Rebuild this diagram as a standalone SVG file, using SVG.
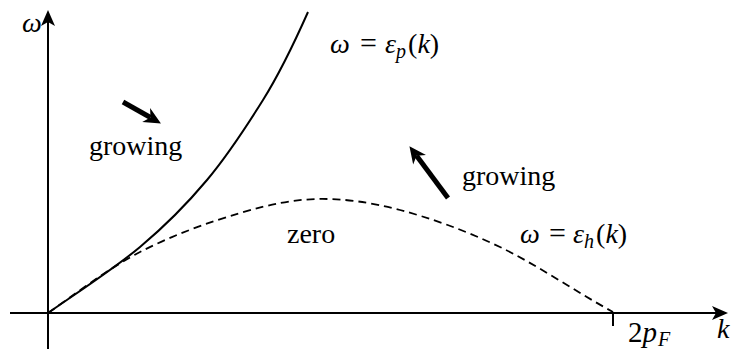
<svg xmlns="http://www.w3.org/2000/svg" width="731" height="349" viewBox="0 0 731 349">
<style>
.ax{stroke:#000;stroke-width:2;fill:none}
.solid{stroke:#000;stroke-width:2;fill:none}
.dash{stroke:#000;stroke-width:1.8;fill:none;stroke-dasharray:8 5}
.thick{stroke:#000;stroke-width:5;fill:none}
.i{font-style:italic}
.sub{font-style:italic;font-size:20px}
</style>
<defs>
<marker id="axh" markerUnits="userSpaceOnUse" markerWidth="20" markerHeight="20" refX="4" refY="0" orient="auto" overflow="visible">
<path d="M16,0 L0,-7 L4,0 L0,7 Z" fill="#000"/>
</marker>
<marker id="gh" markerUnits="userSpaceOnUse" markerWidth="24" markerHeight="24" refX="5" refY="0" orient="auto" overflow="visible">
<path d="M17,0 L0,-8 L5,0 L0,8 Z" fill="#000"/>
</marker>
</defs>
<g id="axes">
<line class="ax" x1="48" y1="349" x2="48" y2="22" marker-end="url(#axh)"/>
<line class="ax" x1="10" y1="313" x2="716" y2="313" marker-end="url(#axh)"/>
<line class="ax" x1="613" y1="313" x2="613" y2="326"/>
</g>
<g id="connectors">
<path id="ep" class="solid" d="M48,313 C78,292 113.5,269.2 140,247 C166.5,224.8 186.5,204.5 207,180 C227.5,155.5 245.5,128 263,100 C280.5,72 300,30 308,12"/>
<path id="eh" class="dash" d="M48,313 C78,292 108,268.7 140,252 C172,235.3 210,221.8 240,213 C270,204.2 293.3,199.5 318,199 C342.7,198.5 370,202 400,210 C430,218 464.5,230 500,247 C535.5,264 578,293 613,312"/>
<line id="arrow1" class="thick" x1="123" y1="102" x2="150.5" y2="117.5" marker-end="url(#gh)"/>
<line id="arrow2" class="thick" x1="448" y1="198" x2="416.6" y2="155.8" marker-end="url(#gh)"/>
</g>
<g id="labels" font-family="'Liberation Serif', 'Times New Roman', serif" font-size="28" fill="#000">
<text x="22" y="32" class="i">ω</text>
<text y="53"><tspan x="330" class="i">ω</tspan><tspan x="360" font-size="30">=</tspan><tspan x="385" class="i">ε</tspan><tspan class="sub" dy="5">p</tspan><tspan dx="2" dy="-5">(</tspan><tspan class="i">k</tspan>)</text>
<text x="89" y="155">growing</text>
<text x="462" y="185">growing</text>
<text x="287" y="243">zero</text>
<text y="243"><tspan x="520" class="i">ω</tspan><tspan x="549" font-size="30">=</tspan><tspan x="573" class="i">ε</tspan><tspan class="sub" dy="5">h</tspan><tspan dx="2" dy="-5">(</tspan><tspan class="i">k</tspan>)</text>
<text x="628" y="342" font-size="29">2<tspan class="i">p</tspan><tspan class="sub" dx="1" dy="4">F</tspan></text>
<text x="717" y="338" class="i">k</text>
</g>
</svg>
